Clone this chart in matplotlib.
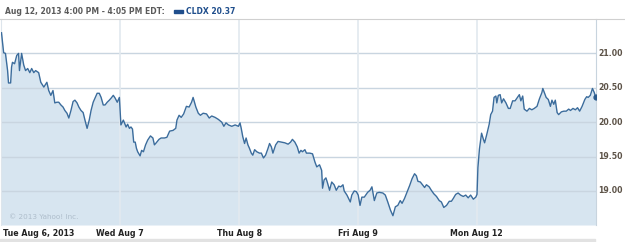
import matplotlib
matplotlib.use("Agg")
import matplotlib.pyplot as plt
import numpy as np

# CLDX intraday quotes, 5 sessions: minutes since open (0..390) and price
days = ["Tue Aug 6, 2013", "Wed Aug 7", "Thu Aug 8", "Fri Aug 9", "Mon Aug 12"]

tue_min = [0, 7, 13, 20, 23, 30, 33, 36, 43, 50, 56, 59, 66, 73, 79, 86, 93, 99, 106, 112,
           122, 129, 139, 149, 155, 162, 169, 175, 182, 188, 195, 202, 208, 215, 221, 228,
           235, 241, 248, 254, 261, 268, 274, 281, 288, 294, 301, 307, 314, 321, 327, 334,
           340, 347, 354, 360, 367, 373, 380, 387]
tue_px = [21.30, 21.01, 21.00, 20.75, 20.57, 20.57, 20.80, 20.87, 20.85, 20.97, 21.00, 20.75,
          21.00, 20.83, 20.75, 20.78, 20.72, 20.78, 20.72, 20.75, 20.72, 20.58, 20.51, 20.58,
          20.46, 20.39, 20.46, 20.28, 20.29, 20.29, 20.25, 20.22, 20.17, 20.13, 20.06, 20.17,
          20.30, 20.32, 20.28, 20.22, 20.17, 20.14, 20.03, 19.91, 20.03, 20.17, 20.29, 20.35,
          20.42, 20.42, 20.36, 20.25, 20.25, 20.29, 20.32, 20.35, 20.39, 20.35, 20.29, 20.36]

wed_min = [2, 10, 19, 24, 30, 35, 40, 44, 49, 53, 57, 65, 70, 76, 83, 90, 99, 107, 112, 118,
           127, 134, 145, 153, 162, 173, 182, 186, 193, 200, 208, 217, 226, 234, 239, 248,
           256, 263, 272, 283, 292, 300, 311, 322, 333, 340, 347, 355, 366, 377, 388]
wed_px = [19.96, 20.03, 19.93, 19.97, 19.91, 19.93, 19.90, 19.71, 19.71, 19.62, 19.57, 19.51,
          19.59, 19.57, 19.67, 19.74, 19.80, 19.77, 19.67, 19.70, 19.75, 19.77, 19.77, 19.78,
          19.87, 19.88, 19.91, 20.03, 20.10, 20.07, 20.12, 20.23, 20.22, 20.29, 20.36, 20.22,
          20.13, 20.10, 20.13, 20.12, 20.06, 20.09, 20.07, 20.04, 20.00, 19.94, 19.99, 19.96,
          19.94, 19.96, 19.94]

thu_min = [3, 7, 12, 18, 23, 29, 34, 40, 45, 51, 58, 67, 73, 80, 87, 95, 100, 106, 111, 120,
           128, 139, 150, 161, 169, 175, 183, 191, 197, 203, 208, 216, 221, 232, 241, 249,
           255, 264, 271, 274, 279, 285, 290, 297, 304, 312, 319, 327, 334, 341, 345, 354,
           365, 370, 378, 385]
thu_px = [19.99, 19.91, 19.79, 19.69, 19.77, 19.67, 19.62, 19.55, 19.52, 19.60, 19.57, 19.55,
          19.55, 19.48, 19.52, 19.62, 19.69, 19.64, 19.55, 19.67, 19.72, 19.71, 19.70, 19.68,
          19.71, 19.75, 19.71, 19.64, 19.55, 19.59, 19.57, 19.60, 19.55, 19.55, 19.54, 19.42,
          19.35, 19.38, 19.30, 19.04, 19.16, 19.19, 19.12, 19.01, 19.13, 19.09, 19.01, 19.07,
          19.06, 19.09, 19.00, 18.94, 18.84, 18.94, 19.00, 18.99]

fri_min = [1, 7, 13, 21, 32, 40, 46, 54, 62, 70, 82, 90, 98, 107, 115, 123, 131, 139, 145,
           153, 161, 170, 178, 186, 192, 197, 205, 212, 219, 225, 234, 241, 249, 258, 267,
           274, 282, 291, 300, 307, 313, 321, 329, 337, 346, 354, 362, 370, 379, 387]
fri_px = [18.94, 18.79, 18.91, 18.91, 18.98, 19.01, 19.06, 18.86, 18.97, 18.98, 18.97, 18.94,
          18.84, 18.72, 18.64, 18.77, 18.79, 18.86, 18.82, 18.89, 18.98, 19.08, 19.18, 19.25,
          19.22, 19.14, 19.13, 19.09, 19.05, 19.09, 19.06, 19.01, 18.96, 18.92, 18.86, 18.84,
          18.76, 18.79, 18.85, 18.85, 18.89, 18.95, 18.97, 18.94, 18.92, 18.94, 18.90, 18.94,
          18.88, 18.91]

mon_min = [1, 4, 9, 16, 22, 26, 33, 41, 46, 52, 57, 63, 66, 71, 77, 82, 88, 96, 104, 110,
           118, 126, 134, 140, 145, 151, 156, 165, 173, 181, 189, 198, 206, 214, 217, 222,
           228, 235, 242, 247, 253, 258, 264, 269, 278, 286, 294, 302, 308, 316, 324, 331,
           338, 346, 355, 361, 366, 373, 380, 386, 390]
mon_px = [18.95, 19.34, 19.61, 19.84, 19.75, 19.70, 19.82, 19.97, 20.11, 20.16, 20.36, 20.38,
          20.28, 20.39, 20.40, 20.28, 20.34, 20.28, 20.20, 20.20, 20.31, 20.31, 20.36, 20.40,
          20.31, 20.38, 20.19, 20.16, 20.20, 20.18, 20.20, 20.23, 20.34, 20.43, 20.49, 20.43,
          20.36, 20.33, 20.23, 20.32, 20.26, 20.32, 20.14, 20.11, 20.15, 20.16, 20.16, 20.19,
          20.17, 20.20, 20.18, 20.21, 20.16, 20.23, 20.33, 20.37, 20.36, 20.39, 20.49, 20.43,
          20.37]

yticks = [19.0, 19.5, 20.0, 20.5, 21.0]
header = "Aug 12, 2013 4:00 PM - 4:05 PM EDT:"
legend_label = "CLDX 20.37"

sessions = [(tue_min, tue_px), (wed_min, wed_px), (thu_min, thu_px), (fri_min, fri_px), (mon_min, mon_px)]
x = np.concatenate([i + np.array(m) / 390.0 for i, (m, p) in enumerate(sessions)])
y = np.concatenate([np.array(p) for m, p in sessions])

line_c = "#3b6c9c"
fill_c = "#d7e5f0"

fig = plt.figure(figsize=(6.25, 2.42), dpi=100)
W, H = 625.0, 242.0
ax = fig.add_axes([1.5 / W, 1 - 225 / H, 594 / W, 206 / H])

ymin, ymax = 18.505, 21.5
ax.fill_between(x, y, ymin, color=fill_c, lw=0, zorder=1)
for v in yticks:
    ax.axhline(v, color="#c9d5e0", lw=1, zorder=2)
for d in range(1, 5):
    ax.axvline(d, color="#e2e9ef", lw=1.2, zorder=2)
ax.plot(x, y, color=line_c, lw=1.0, zorder=3)
ax.plot(x[-1], y[-1], "o", color="#2a5a8c", ms=3.5, zorder=4)

ax.set_xlim(0, 5)
ax.set_ylim(ymin, ymax)
ax.set_xticks([])
ax.set_yticks([])
for s in ["top", "bottom"]:
    ax.spines[s].set_visible(False)
ax.spines["right"].set_color("#c8d4de")
ax.spines["left"].set_color("#dde5ec")

for v in yticks:
    ax.text(5.025, v, f"{v:.2f}", fontsize=5.6, color="#5c5247", va="center", ha="left",
            fontweight="bold", clip_on=False)

ax.text(0.06, 18.58, "\u00a9 2013 Yahoo! Inc.", fontsize=5.2, color="#aebdcb", va="bottom")

# header
fig.add_artist(plt.Line2D([0, 1], [1 - 19 / H, 1 - 19 / H], color="#d0d0d0", lw=0.8))
fig.text(5 / W, 1 - 11.5 / H, header, fontsize=5.5, fontweight="bold", color="#5a5a5a", va="center")
fig.add_artist(plt.Rectangle((174 / W, 1 - 13 / H), 9 / W, 3 / H, color="#1f4e8c"))
fig.text(186 / W, 1 - 11.5 / H, legend_label, fontsize=5.5, fontweight="bold", color="#1f4e8c", va="center")

# date labels
fig.text(3 / W, 1 - 233 / H, days[0], fontsize=5.7, fontweight="bold", color="#222222",
         va="center", ha="left")
for i in range(1, 5):
    xp = (1.5 + i * 118.8) / W
    fig.text(xp, 1 - 233 / H, days[i], fontsize=5.7, fontweight="bold", color="#222222",
             va="center", ha="center")

fig.add_artist(plt.Rectangle((0, 0), 595 / W, 3 / H, color="#e2e2e2"))

fig.savefig("out.png", dpi=100)
